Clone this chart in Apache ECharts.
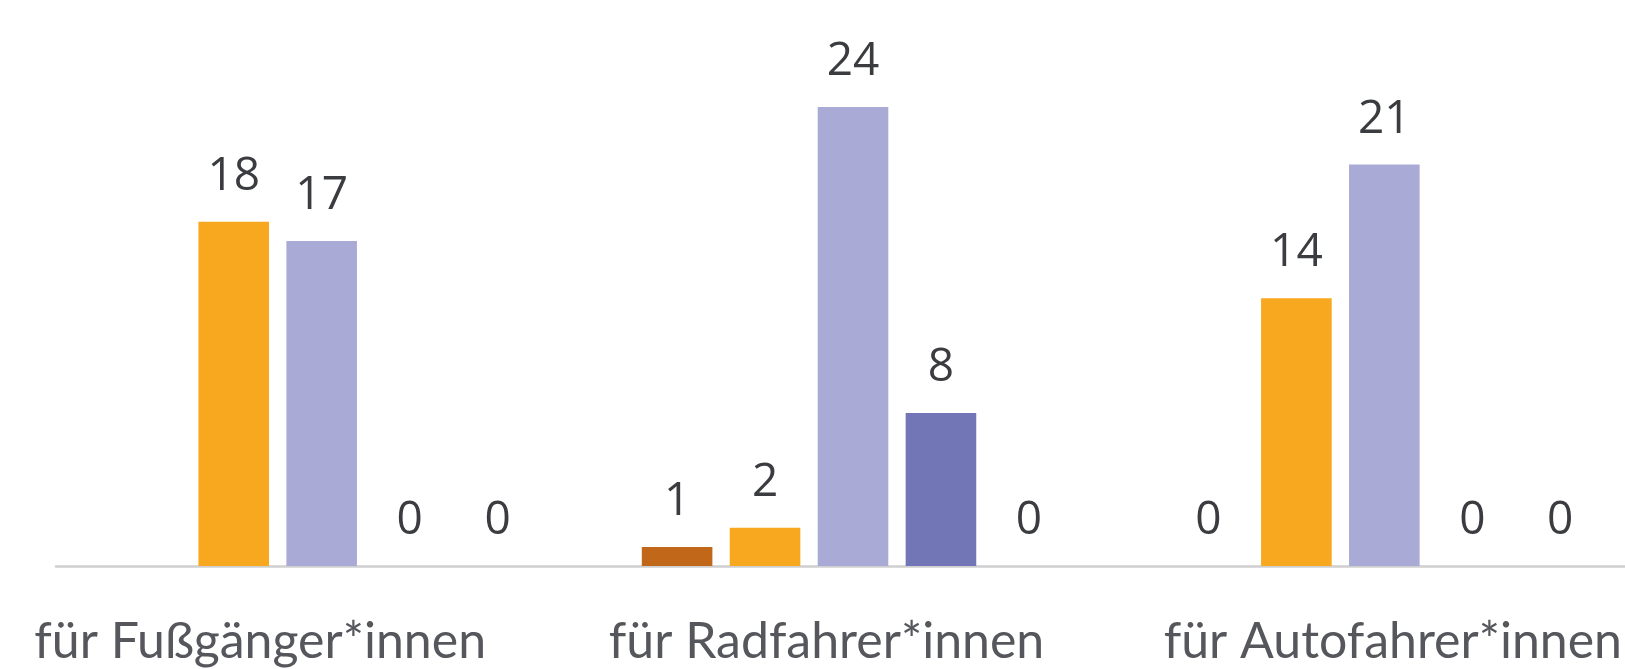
<!DOCTYPE html>
<html>
<head>
<meta charset="utf-8">
<script src="https://cdn.jsdelivr.net/npm/echarts@6/dist/echarts.min.js"></script>
<style>
  html, body { margin: 0; padding: 0; background: #fff; }
  #chart { width: 1625px; height: 669px; }
</style>
</head>
<body>
<div id="chart"></div>
<script>
const categories = ['für Fußgänger*innen', 'für Radfahrer*innen', 'für Autofahrer*innen'];
const series1 = [null, 1, 0];
const series2 = [18, 2, 14];
const series3 = [17, 24, 21];
const series4 = [0, 8, 0];
const series5 = [0, 0, 0];
const seriesData = [series1, series2, series3, series4, series5];
const colors = ['#C0671A', '#F7A81E', '#A9ABD6', '#7276B7', '#4F5296'];

const chart = echarts.init(document.getElementById('chart'));

const option = {
  animation: false,
  grid: [
    // bars run past the right edge, like the original crop
    { left: 56, width: 1594, top: 88, bottom: 103, outerBoundsMode: 'none' },
    // category labels sit on their own spacing
    { left: -23, width: 1699, top: 88, bottom: 103, outerBoundsMode: 'none' }
  ],
  xAxis: [
    {
      type: 'category',
      gridIndex: 0,
      data: categories,
      axisLine: { lineStyle: { color: '#cfcfcf', width: 2.5 } },
      axisTick: { show: false },
      axisLabel: { show: false }
    },
    {
      type: 'category',
      gridIndex: 1,
      data: categories,
      axisLine: { show: false },
      axisTick: { show: false },
      axisLabel: {
        interval: 0,
        hideOverlap: false,
        margin: 51,
        fontFamily: 'Lato',
        fontSize: 50,
        color: '#55575c'
      }
    }
  ],
  yAxis: [
    { type: 'value', gridIndex: 0, min: 0, max: 25, show: false, splitLine: { show: false } },
    { type: 'value', gridIndex: 1, min: 0, max: 25, show: false, splitLine: { show: false } }
  ],
  series: seriesData.map((d, i) => ({
    type: 'bar',
    data: d,
    barGap: '24.6%',
    barCategoryGap: '20.5%',
    itemStyle: { color: colors[i] },
    label: {
      show: true,
      position: 'top',
      distance: 22,
      fontFamily: 'Open Sans',
      fontSize: 46,
      color: '#3a3c40'
    }
  }))
};
chart.setOption(option);
</script>
</body>
</html>
